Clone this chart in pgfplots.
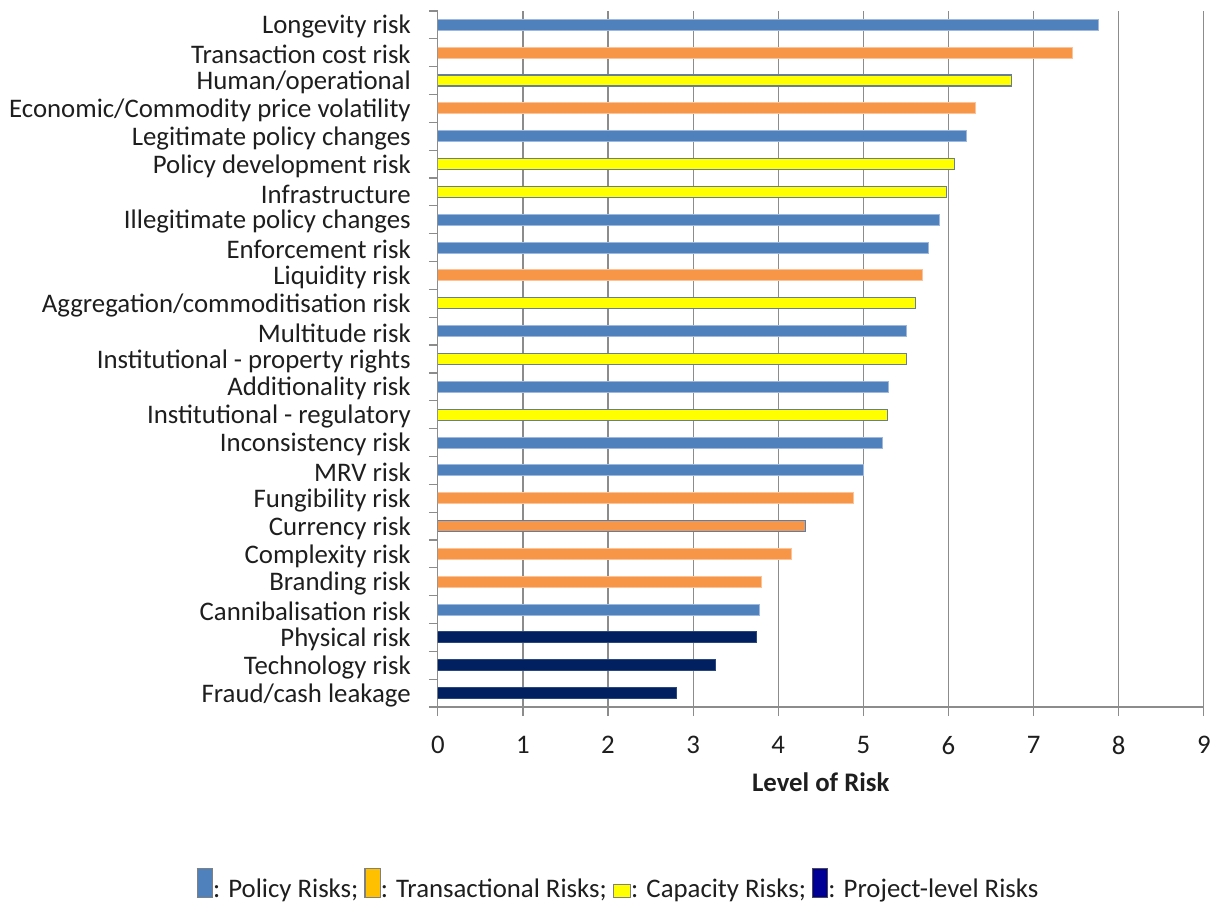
\documentclass[border=0pt]{standalone}
\usepackage{pgfplots}
\pgfplotsset{compat=1.18}
\usepackage{fontspec}
\setmainfont{Carlito}

\definecolor{policy}{HTML}{4F81BD}
\definecolor{policyedge}{HTML}{9DB8DC}
\definecolor{trans}{HTML}{F79646}
\definecolor{transedge}{HTML}{FAC39C}
\definecolor{capac}{HTML}{FFFF00}
\definecolor{capacedge}{HTML}{687E96}
\definecolor{proj}{HTML}{002060}
\definecolor{projedge}{HTML}{2A4680}
\definecolor{gridgray}{HTML}{8C8C8C}
\definecolor{textc}{HTML}{1E1E1E}
\definecolor{legpolicy}{HTML}{4F81BD}
\definecolor{legtrans}{HTML}{FFC000}
\definecolor{legcapac}{HTML}{FFFF00}
\definecolor{legproj}{HTML}{000096}

\newcommand{\legbox}[4]{{\setlength{\fboxsep}{0pt}\setlength{\fboxrule}{0.6pt}\fcolorbox{#1}{#2}{\rule{0pt}{#4}\hspace{#3}}}}
\newcommand{\chartfont}{\fontsize{13.4}{15.5}\selectfont}

\begin{document}
\begin{tikzpicture}
\useasboundingbox (0,0) rectangle (608pt,451pt);
\begin{axis}[
  at={(218.9pt,97.5pt)}, anchor=south west,
  scale only axis, width=383pt, height=348pt,
  xbar, bar width=5.5pt, bar shift=0pt,
  xmin=0, xmax=9, ymin=-0.5, ymax=24.5,
  axis x line*=bottom, axis y line*=left,
  axis line style={draw=gridgray, line width=0.6pt},
  xtick={0,...,9},
  ytick={0,...,24},
  yticklabels={Fraud/cash leakage, Technology risk, Physical risk,
    Cannibalisation risk, Branding risk, Complexity risk, Currency risk,
    Fungibility risk, MRV risk, Inconsistency risk,
    Institutional - regulatory, Additionality risk,
    Institutional - property rights, Multitude risk,
    Aggregation/commoditisation risk, Liquidity risk, Enforcement risk,
    Illegitimate policy changes, Infrastructure, Policy development risk,
    Legitimate policy changes, Economic/Commodity price volatility,
    Human/operational, Transaction cost risk, Longevity risk},
  minor ytick={-0.5,0.5,...,24.5},
  major tick length=4.5pt, minor tick length=4.5pt, tick align=outside,
  tick style={draw=gridgray, line width=0.6pt},
  major y tick style={draw=none},
  xmajorgrids, grid style={draw=gridgray, line width=0.6pt},
  ticklabel style={font=\chartfont, text=textc},
  /pgf/number format/assume math mode=true,
  yticklabel style={xshift=-5.5pt, yshift=-1pt},
  xticklabel style={yshift=-6.5pt},
  xlabel={\textbf{Level of Risk}},
  xlabel style={font=\chartfont, text=textc,
    at={(axis description cs:0.5,0)}, anchor=center, yshift=-37.5pt},
]
% Policy risks
\addplot[fill=policy, draw=policyedge, line width=0.5pt] coordinates {
  (7.76,24) (6.21,20) (5.89,17) (5.76,16) (5.51,13)
  (5.30,11) (5.23,9) (5.00,8) (3.78,3)};
% Transactional risks
\addplot[fill=trans, draw=transedge, line width=0.5pt] coordinates {
  (7.46,23) (6.32,21) (5.69,15) (4.88,7) (4.16,5) (3.80,4)};
% Currency risk, outlined in blue
\addplot[fill=trans, draw=policy, line width=0.6pt] coordinates {(4.32,6)};
% Capacity risks
\addplot[fill=capac, draw=capacedge, line width=0.6pt] coordinates {
  (6.74,22) (6.07,19) (5.98,18) (5.61,14) (5.51,12) (5.28,10)};
% Project-level risks
\addplot[fill=proj, draw=projedge, line width=0.5pt] coordinates {
  (3.75,2) (3.26,1) (2.81,0)};
\end{axis}
\node[anchor=base, font=\chartfont, text=textc, inner sep=0pt]
  at (308.75pt,2.5pt)
  {\legbox{gray}{legpolicy}{7pt}{14pt}: Policy Risks;
   \legbox{gray}{legtrans}{7pt}{14pt}: Transactional Risks;
   \legbox{gray}{legcapac}{8pt}{6pt}: Capacity Risks;
   \legbox{black!70}{legproj}{7pt}{14pt}: Project-level Risks};
\end{tikzpicture}
\end{document}
